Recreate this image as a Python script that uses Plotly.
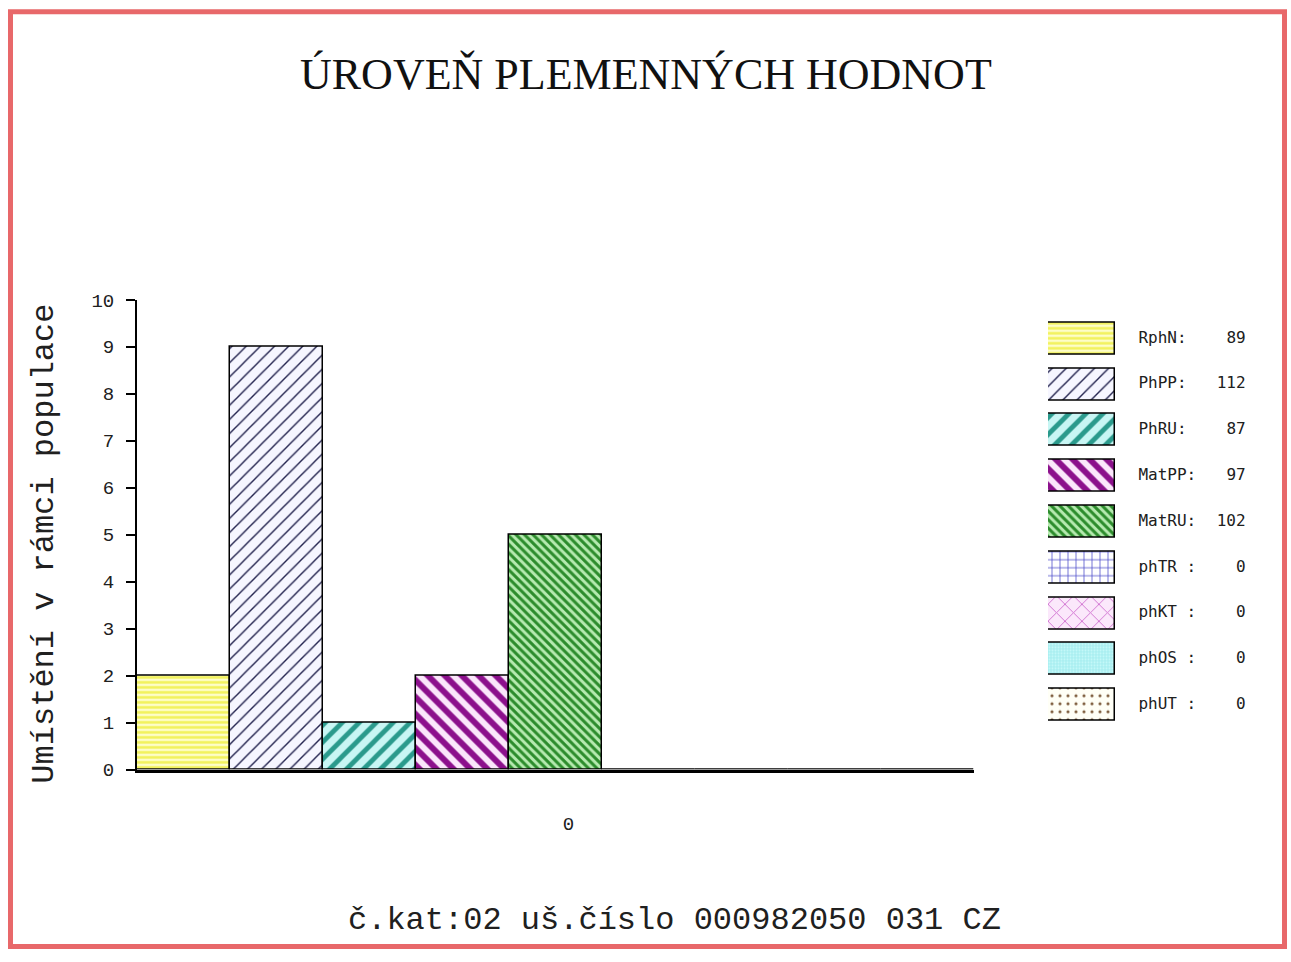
import plotly.graph_objects as go

# ---- data ----
names = ["RphN", "PhPP", "PhRU", "MatPP", "MatRU", "phTR", "phKT", "phOS", "phUT"]
legend_labels = ["RphN:", "PhPP:", "PhRU:", "MatPP:", "MatRU:", "phTR :", "phKT :", "phOS :", "phUT :"]
breeding_values = [89, 112, 87, 97, 102, 0, 0, 0, 0]
placement = [2, 9, 1, 2, 5, 0, 0, 0, 0]
group_x = [0]
y_ticks = list(range(0, 11))

title_text = "ÚROVEŇ PLEMENNÝCH HODNOT"
y_title = "Umístění v rámci populace"
footer = "č.kat:02 uš.číslo 000982050 031 CZ"

# ---- styles ----
shapes_ = ["-", "/", "/", "\\", "\\", "+", "x", ".", "."]
bgs = ["#fdfdc8", "#f6f6ff", "#c8f6f4", "#fbe6fb", "#b6eab0", "#ffffff", "#fbe8fb", "#a8eef0", "#fffff6"]
fgs = ["#f2f25a", "#22224e", "#2a9a8c", "#8c108c", "#2c8c2c", "#4848c8", "#d070d0", "#c8fafa", "#806040"]
sizes = [5, 10, 12, 12, 6, 8, 12, 3, 8]
solid = [0.5, 0.14, 0.4, 0.5, 0.5, 0.18, 0.15, 0.4, 0.12]

MONO = "Liberation Mono"
W, H = 1291, 962
OFF, K = 7.7, 0.982   # observed vertical mapping of the capture


def px(x):
    return x / W


def py(y):
    return 1 - ((y - OFF) / K) / H


fig = go.Figure()

for i, n in enumerate(names):
    fig.add_trace(go.Bar(
        x=group_x, y=[placement[i]], name=n, showlegend=False,
        marker=dict(color=bgs[i], line=dict(color="black", width=1.5),
                    pattern=dict(shape=shapes_[i], bgcolor=bgs[i], fgcolor=fgs[i],
                                 size=sizes[i], solidity=solid[i], fillmode="replace")),
        xaxis="x", yaxis="y", hoverinfo="skip"))

# legend keys: one small horizontal bar per series in a side subplot
for i, n in enumerate(names):
    fig.add_trace(go.Bar(
        x=[1], y=[n], orientation="h", width=0.7, offset=-0.35, showlegend=False,
        marker=dict(color=bgs[i], line=dict(color="black", width=1.5),
                    pattern=dict(shape=shapes_[i], bgcolor=bgs[i], fgcolor=fgs[i],
                                 size=sizes[i], solidity=solid[i], fillmode="replace")),
        xaxis="x2", yaxis="y2", hoverinfo="skip"))

fig.add_trace(go.Scatter(
    x=[1.35] * len(names), y=names, mode="text", text=legend_labels,
    textposition="middle right", showlegend=False, cliponaxis=False,
    textfont=dict(family="DejaVu Sans Mono", size=16, color="#202020"),
    xaxis="x2", yaxis="y2", hoverinfo="skip"))
fig.add_trace(go.Scatter(
    x=[2.95] * len(names), y=names, mode="text", text=[str(v) for v in breeding_values],
    textposition="middle left", showlegend=False, cliponaxis=False,
    textfont=dict(family="DejaVu Sans Mono", size=16, color="#202020"),
    xaxis="x2", yaxis="y2", hoverinfo="skip"))

fig.update_layout(
    width=W, height=H,
    margin=dict(l=0, r=0, t=0, b=0),
    paper_bgcolor="white", plot_bgcolor="white",
    barmode="group", bargap=0, bargroupgap=0,
    xaxis=dict(domain=[px(137), px(974)], range=[-0.5, 0.5], tickvals=group_x,
               ticktext=[str(v) for v in group_x], showgrid=False, zeroline=False,
               showline=True, linecolor="black", linewidth=3, ticks="",
               ticklabelshift=13, ticklabelstandoff=35,
               tickfont=dict(family=MONO, size=19, color="#202020")),
    yaxis=dict(domain=[py(772), py(300)], range=[0, 10], tickvals=y_ticks,
               showgrid=False, zeroline=False, showline=True, linecolor="black",
               linewidth=2, ticks="outside", ticklen=9, tickwidth=1.5, tickcolor="black",
               ticklabelstandoff=8,
               tickfont=dict(family=MONO, size=19, color="#202020")),
    xaxis2=dict(domain=[px(1048), px(1250)], range=[0, 202 / 67], visible=False),
    yaxis2=dict(domain=[py(730), py(316)], visible=False, type="category",
                categoryorder="array", categoryarray=names, autorange="reversed"),
    annotations=[
        dict(text=title_text, x=px(646), y=py(74), xref="paper", yref="paper",
             showarrow=False, xanchor="center", yanchor="middle",
             font=dict(family="Liberation Serif", size=44, color="#111111")),
        dict(text=y_title, x=px(45), y=py(545), xref="paper", yref="paper",
             showarrow=False, textangle=-90, xanchor="center", yanchor="middle",
             font=dict(family=MONO, size=32, color="#202020")),
        dict(text=footer, x=px(674), y=py(924), xref="paper", yref="paper",
             showarrow=False, xanchor="center", yanchor="middle",
             font=dict(family=MONO, size=32, color="#202020")),
    ],
    shapes=[dict(type="rect", xref="paper", yref="paper",
                 x0=px(10.5), x1=px(1284.5), y0=max(py(955.5), 2.5 / H), y1=py(10.5),
                 line=dict(color="#e8686a", width=5), fillcolor="rgba(0,0,0,0)")],
)

fig.write_html("out.html", config={"displayModeBar": False},
               post_script="document.body.style.margin='0';document.body.style.overflow='hidden';")
